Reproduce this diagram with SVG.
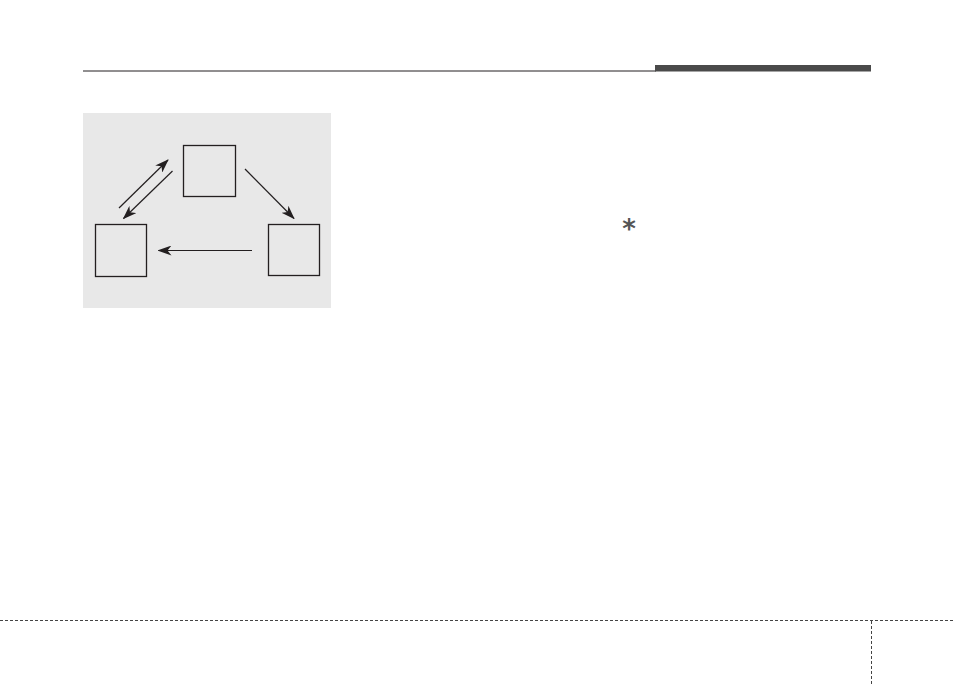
<svg xmlns="http://www.w3.org/2000/svg" width="954" height="685" viewBox="0 0 954 685">
<style>
.box{fill:none;stroke:#231f20;stroke-width:1.3}
.conn{stroke:#231f20;stroke-width:1.2;fill:none;marker-end:url(#ah)}
.dash{stroke:#444;stroke-width:1;stroke-dasharray:3,2;fill:none}
</style>
<defs>
<marker id="ah" viewBox="0 0 14 10" refX="13" refY="5" markerWidth="14" markerHeight="10" markerUnits="userSpaceOnUse" orient="auto">
<path d="M0,0 L14,5 L0,10 L4,5 Z" fill="#231f20"/>
</marker>
</defs>
<rect width="954" height="685" fill="#fff"/>
<g id="header">
<line x1="83" y1="71" x2="656" y2="71" stroke="#231f20" stroke-width="1"/>
<rect x="655" y="65" width="216" height="6.5" fill="#4a4a4a"/>
</g>
<g id="panel">
<rect x="83" y="113" width="248" height="195" fill="#e8e8e8"/>
</g>
<g id="node-top"><rect class="box" x="183.5" y="145.5" width="52" height="51"/></g>
<g id="node-left"><rect class="box" x="95.5" y="224.5" width="51" height="52"/></g>
<g id="node-right"><rect class="box" x="268.5" y="224.5" width="51" height="51"/></g>
<g id="connectors">
<line class="conn" x1="119" y1="208" x2="168" y2="160"/>
<line class="conn" x1="172.5" y1="171" x2="123.5" y2="218.5"/>
<line class="conn" x1="245" y1="169" x2="294" y2="218.5"/>
<line class="conn" x1="252" y1="250.5" x2="158.5" y2="250.5"/>
</g>
<text x="629" y="238" font-family="DejaVu Sans, sans-serif" font-weight="bold" font-size="26" fill="#555" text-anchor="middle">*</text>
<g id="footer">
<line class="dash" x1="0" y1="620.5" x2="954" y2="620.5"/>
<line class="dash" x1="871.5" y1="621" x2="871.5" y2="685"/>
</g>
</svg>
